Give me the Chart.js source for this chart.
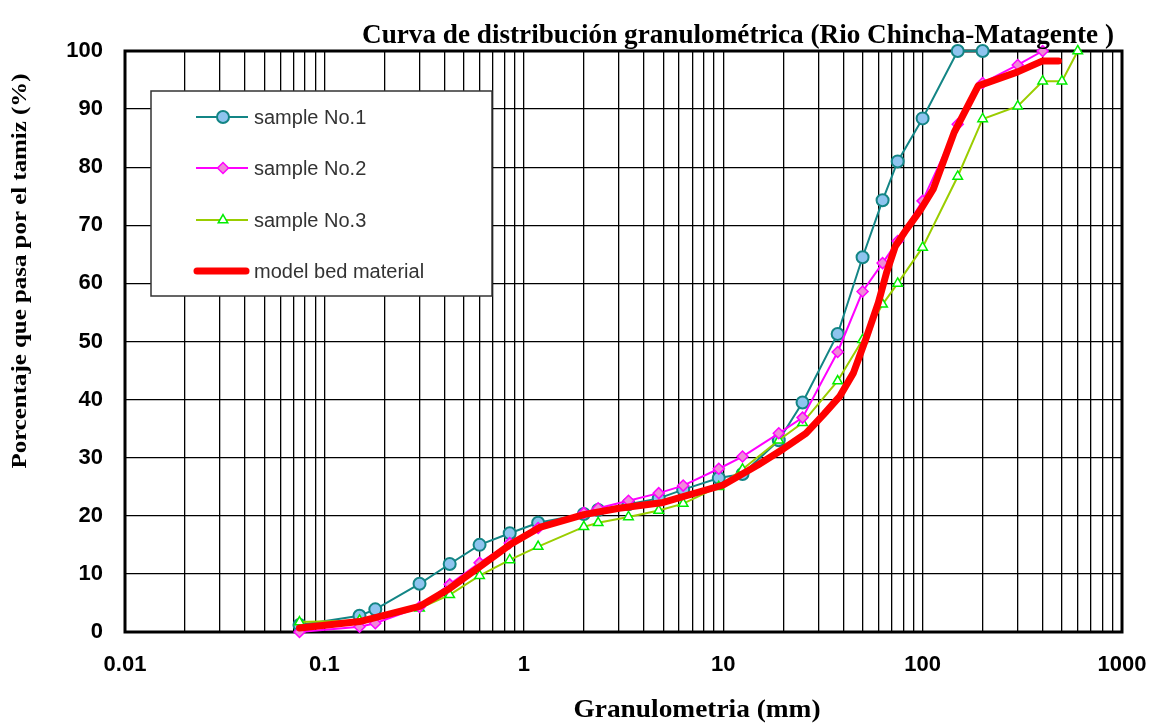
<!DOCTYPE html>
<html>
<head>
<meta charset="utf-8">
<script src="https://cdn.jsdelivr.net/npm/chart.js@4/dist/chart.umd.min.js"></script>
<style>
  html, body { margin: 0; padding: 0; background: #fff; }
  #wrap { width: 1157px; height: 726px; }
</style>
</head>
<body>
<div id="wrap"><canvas id="myChart"></canvas></div>
<script>
// datos
const sieveSizes1 = [0.075, 0.15, 0.18, 0.3, 0.425, 0.6, 0.85, 1.18, 2.0, 2.36, 3.35, 4.75, 6.3, 9.5, 12.5, 19, 25, 37.5, 50, 63, 75, 100, 150, 200];
const passing1 = [1.2, 2.8, 3.9, 8.3, 11.7, 15.0, 17.0, 18.8, 20.3, 21.0, 22.0, 23.0, 24.5, 26.5, 27.2, 33.0, 39.5, 51.3, 64.5, 74.3, 81.0, 88.4, 100, 100];

const sieveSizes2 = [0.075, 0.15, 0.18, 0.3, 0.425, 0.6, 0.85, 1.18, 2.0, 2.36, 3.35, 4.75, 6.3, 9.5, 12.5, 19, 25, 37.5, 50, 63, 75, 100, 150, 200, 300, 400];
const passing2 = [0, 0.9, 1.5, 4.3, 8.2, 11.9, 15.3, 17.9, 20.5, 21.3, 22.6, 23.9, 25.2, 28.1, 30.2, 34.2, 36.9, 48.2, 58.6, 63.5, 67.3, 74.2, 87.4, 94.5, 97.6, 100];

const sieveSizes3 = [0.075, 0.15, 0.3, 0.425, 0.6, 0.85, 1.18, 2.0, 2.36, 3.35, 4.75, 6.3, 9.5, 12.5, 19, 25, 37.5, 50, 63, 75, 100, 150, 200, 300, 400, 500, 600];
const passing3 = [1.7, 2.0, 4.1, 6.4, 9.7, 12.4, 14.7, 18.1, 18.8, 19.8, 20.9, 22.1, 25.0, 28.0, 33.0, 36.0, 43.2, 50.3, 56.4, 60.0, 66.2, 78.4, 88.3, 90.5, 94.8, 94.8, 100];

const modelSizes = [0.075, 0.15, 0.3, 0.425, 0.6, 0.85, 1.2, 2, 3, 5, 10, 15, 20, 26, 32, 38.5, 45, 52.5, 60, 66, 73, 83, 97, 113, 144, 190, 300, 400, 480];
const modelPassing = [0.7, 1.8, 4.4, 7.5, 11.2, 15.0, 18.0, 20.2, 21.3, 22.3, 25.3, 28.8, 31.5, 34.2, 37.5, 40.6, 44.6, 50.9, 56.7, 61.9, 66.4, 69.3, 72.5, 76.2, 86.0, 94.0, 96.4, 98.3, 98.3];

const seriesLabels = ['sample No.1', 'sample No.2', 'sample No.3', 'model bed material'];
const xMajorTicks = [0.01, 0.1, 1, 10, 100, 1000];
const yTicks = [0, 10, 20, 30, 40, 50, 60, 70, 80, 90, 100];

const chartTitle = 'Curva de distribución granulométrica (Rio Chincha-Matagente )';
const xTitle = 'Granulometria (mm)';
const yTitle = 'Porcentaje que pasa por el tamiz (%)';

function toPoints(xs, ys) {
    return xs.map((x, i) => ({ x: x, y: ys[i] }));
}

// texto ajustado a un ancho
function fitText(ctx, text, x, y, width, font, rotate) {
    ctx.save();
    ctx.font = font;
    ctx.fillStyle = '#000';
    ctx.textAlign = 'center';
    ctx.textBaseline = 'middle';
    const w = ctx.measureText(text).width;
    ctx.translate(x, y);
    if (rotate) ctx.rotate(-Math.PI / 2);
    ctx.scale(width / w, 1);
    ctx.fillText(text, 0, 0);
    ctx.restore();
}

const framePlugin = {
    id: 'frame',
    beforeDatasetsDraw(chart) {
        const { ctx, chartArea: a } = chart;
        ctx.save();
        ctx.strokeStyle = '#000';
        ctx.lineWidth = 3;
        ctx.strokeRect(a.left, a.top, a.right - a.left, a.bottom - a.top);
        ctx.restore();
    },
    afterDraw(chart) {
        const ctx = chart.ctx;
        fitText(ctx, chartTitle, 738, 36, 752, 'bold 27px "Liberation Serif"', false);
        fitText(ctx, xTitle, 697, 710, 247, 'bold 26px "Liberation Serif"', false);
        fitText(ctx, yTitle, 20, 271, 395, 'bold 22px "Liberation Serif"', true);
    }
};

// leyenda dentro del grafico
const boxLegend = {
    id: 'boxLegend',
    afterDatasetsDraw(chart) {
        const ctx = chart.ctx;
        ctx.save();
        ctx.fillStyle = '#fff';
        ctx.fillRect(151, 91, 341, 205);
        ctx.strokeStyle = '#333';
        ctx.lineWidth = 1.5;
        ctx.strokeRect(151, 91, 341, 205);
        const rows = [117, 168, 220, 271];
        chart.data.datasets.forEach((ds, i) => {
            const y = rows[i];
            ctx.strokeStyle = ds.borderColor;
            ctx.lineWidth = ds.borderWidth;
            ctx.lineCap = i === 3 ? 'round' : 'butt';
            ctx.beginPath();
            ctx.moveTo(i === 3 ? 197 : 196, y);
            ctx.lineTo(i === 3 ? 246 : 248, y);
            ctx.stroke();
            if (ds.pointRadius > 0) {
                ctx.fillStyle = ds.pointBackgroundColor;
                ctx.strokeStyle = ds.pointBorderColor;
                ctx.lineWidth = ds.pointBorderWidth;
                Chart.helpers.drawPoint(ctx, {
                    pointStyle: ds.pointStyle, radius: ds.pointRadius, borderWidth: ds.pointBorderWidth, rotation: 0
                }, 223, y);
            }
            ctx.fillStyle = '#333';
            ctx.font = '20px "Liberation Sans"';
            ctx.textAlign = 'left';
            ctx.textBaseline = 'middle';
            ctx.fillText(ds.label, 254, y + 1);
        });
        ctx.restore();
    }
};

const ctx = document.getElementById('myChart').getContext('2d');

const myChart = new Chart(ctx, {
    type: 'line',
    data: {
        datasets: [{
            label: seriesLabels[0],
            data: toPoints(sieveSizes1, passing1),
            borderColor: '#138585',
            borderWidth: 2,
            pointStyle: 'circle',
            pointRadius: 6,
            pointBackgroundColor: '#8ec4ef',
            pointBorderColor: '#138585',
            pointBorderWidth: 2,
            order: 3,
            clip: false
        }, {
            label: seriesLabels[1],
            data: toPoints(sieveSizes2, passing2),
            borderColor: '#ff00ff',
            borderWidth: 2,
            pointStyle: 'rectRot',
            pointRadius: 5.5,
            pointBackgroundColor: '#f08ad8',
            pointBorderColor: '#ff00ff',
            pointBorderWidth: 1.5,
            order: 1,
            clip: false
        }, {
            label: seriesLabels[2],
            data: toPoints(sieveSizes3, passing3),
            borderColor: '#9acd00',
            borderWidth: 2,
            pointStyle: 'triangle',
            pointRadius: 5.5,
            pointBackgroundColor: '#ffffff',
            pointBorderColor: '#00ee00',
            pointBorderWidth: 1.5,
            order: 2,
            clip: false
        }, {
            label: seriesLabels[3],
            data: toPoints(modelSizes, modelPassing),
            borderColor: '#ff0000',
            borderWidth: 7,
            borderJoinStyle: 'round',
            borderCapStyle: 'round',
            pointRadius: 0,
            order: 0,
            clip: false
        }]
    },
    options: {
        responsive: true,
        maintainAspectRatio: false,
        animation: false,
        events: [],
        layout: { padding: { top: 51, right: 35, left: 0, bottom: 0 } },
        plugins: {
            legend: { display: false },
            title: { display: false },
            tooltip: { enabled: false }
        },
        scales: {
            x: {
                type: 'logarithmic',
                min: 0.01,
                max: 1000,
                border: { display: false },
                grid: { color: '#000', lineWidth: 1.3, drawTicks: false },
                afterBuildTicks(scale) {
                    const t = [];
                    xMajorTicks.forEach((m, i) => {
                        t.push({ value: m });
                        if (i < xMajorTicks.length - 1) {
                            for (let k = 2; k <= 9; k++) t.push({ value: m * k });
                        }
                    });
                    scale.ticks = t;
                },
                afterFit(scale) {
                    scale.height = 94;
                    scale.paddingLeft = 0;
                    scale.paddingRight = 0;
                },
                ticks: {
                    autoSkip: false,
                    maxRotation: 0,
                    padding: 20,
                    color: '#000',
                    font: { family: '"Liberation Sans"', weight: 'bold', size: 22 },
                    callback: (value) => xMajorTicks.includes(value) ? String(value) : ''
                }
            },
            y: {
                min: 0,
                max: 100,
                border: { display: false },
                grid: { color: '#000', lineWidth: 1.3, drawTicks: false },
                afterBuildTicks(scale) {
                    scale.ticks = yTicks.map(v => ({ value: v }));
                },
                afterFit(scale) {
                    scale.width = 125;
                    scale.paddingTop = 0;
                    scale.paddingBottom = 0;
                },
                ticks: {
                    padding: 22,
                    color: '#000',
                    font: { family: '"Liberation Sans"', weight: 'bold', size: 22 }
                }
            }
        }
    },
    plugins: [framePlugin, boxLegend]
});
</script>
</body>
</html>
